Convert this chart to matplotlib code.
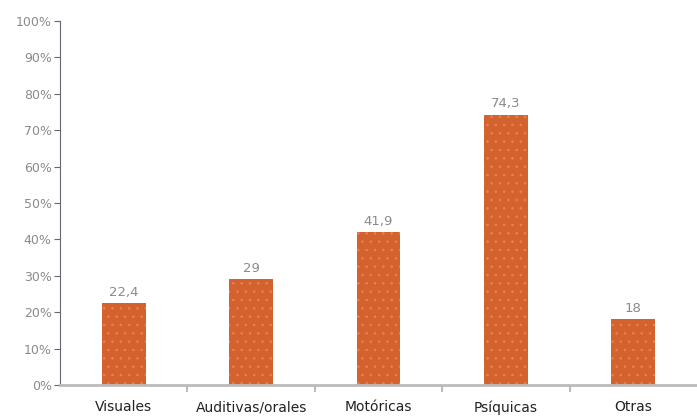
import matplotlib; matplotlib.use("Agg")
import matplotlib.pyplot as plt
from matplotlib.ticker import FixedLocator

categories = ["Visuales", "Auditivas/orales", "Motóricas", "Psíquicas", "Otras"]
values = [22.4, 29, 41.9, 74.3, 18]
value_labels = ["22,4", "29", "41,9", "74,3", "18"]
yticks = [0, 10, 20, 30, 40, 50, 60, 70, 80, 90, 100]

BAR_C = "#d3622f"
GREY = "#8a8a8a"

plt.rcParams["hatch.color"] = "#e8834f"
plt.rcParams["hatch.linewidth"] = 0.6

fig = plt.figure(figsize=(6.97, 4.17), dpi=100)
ax = fig.add_axes([60 / 697, 32 / 417, 637 / 697, 364 / 417])

x = list(range(len(categories)))
ax.bar(x, values, width=0.345, color=BAR_C, hatch="..", edgecolor="#e8834f", linewidth=0)
for xi, v, t in zip(x, values, value_labels):
    ax.text(xi, v + 1.3, t, ha="center", va="bottom", fontsize=9.5, color=GREY)

ax.set_xlim(-0.5, len(categories) - 0.5)
ax.set_ylim(0, 100)
ax.set_yticks(yticks)
ax.set_yticklabels([f"{t}%" for t in yticks], color=GREY, fontsize=9)
ax.set_xticks(x)
ax.set_xticklabels(categories, fontsize=10, color="#222222")
ax.tick_params(axis="x", length=0, pad=11)
ax.xaxis.set_minor_locator(FixedLocator([i + 0.5 for i in x[:-1]]))
ax.tick_params(axis="x", which="minor", length=5, color="#bbbbbb", width=1.5)
ax.tick_params(axis="y", length=4, color="#666677", width=0.8, pad=2)

for s in ("top", "right"):
    ax.spines[s].set_visible(False)
ax.spines["left"].set_color("#666677")
ax.spines["left"].set_linewidth(0.8)
ax.spines["bottom"].set_color("#bbbbbb")
ax.spines["bottom"].set_linewidth(2)

fig.savefig("out.png", dpi=100)
